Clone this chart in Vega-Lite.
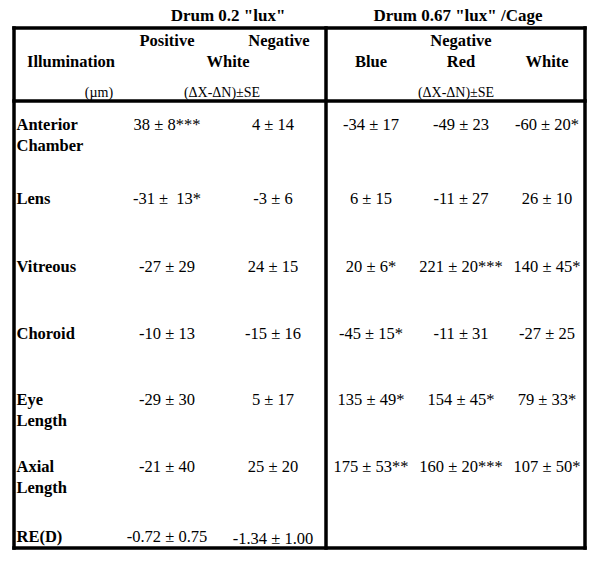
{
  "$schema": "https://vega.github.io/schema/vega-lite/v6.json",
  "width": 600,
  "height": 563,
  "autosize": {"type": "fit", "contains": "padding"},
  "padding": 0,
  "background": "white",
  "config": {"view": {"stroke": null}},
  "datasets": {
    "titles": [
      {"text": "Drum 0.2 \"lux\"", "col": 6, "row": 0},
      {"text": "Drum 0.67 \"lux\" /Cage", "col": 12, "row": 0}
    ],
    "headers": [
      {"text": "Positive", "col": 4, "row": 2},
      {"text": "Negative", "col": 8, "row": 2},
      {"text": "Illumination", "col": 2, "row": 3},
      {"text": "White", "col": 6, "row": 3},
      {"text": "Negative", "col": 13, "row": 2},
      {"text": "Blue", "col": 10, "row": 3},
      {"text": "Red", "col": 13, "row": 3},
      {"text": "White", "col": 14, "row": 3}
    ],
    "units": [
      {"text": "(µm)", "col": 3, "row": 4, "kind": "bold"},
      {"text": "(ΔX-ΔN)±SE", "col": 5, "row": 4, "kind": "plain"},
      {"text": "(ΔX-ΔN)±SE", "col": 11, "row": 4, "kind": "plain"}
    ],
    "labels": [
      {"text": "Anterior\nChamber", "row": 6},
      {"text": "Lens", "row": 7},
      {"text": "Vitreous", "row": 8},
      {"text": "Choroid", "row": 9},
      {"text": "Eye\nLength", "row": 10},
      {"text": "Axial\nLength", "row": 11},
      {"text": "RE(D)", "row": 12}
    ],
    "cells": [
      {"text": "38 ± 8***", "col": 4, "row": 6},
      {"text": "4 ± 14", "col": 7, "row": 6},
      {"text": "-34 ± 17", "col": 10, "row": 6},
      {"text": "-49 ± 23", "col": 13, "row": 6},
      {"text": "-60 ± 20*", "col": 14, "row": 6},
      {"text": "-31 ±\u00a0 13*", "col": 4, "row": 7},
      {"text": "-3 ± 6", "col": 7, "row": 7},
      {"text": "6 ± 15", "col": 10, "row": 7},
      {"text": "-11 ± 27", "col": 13, "row": 7},
      {"text": "26 ± 10", "col": 14, "row": 7},
      {"text": "-27 ± 29", "col": 4, "row": 8},
      {"text": "24 ± 15", "col": 7, "row": 8},
      {"text": "20 ± 6*", "col": 10, "row": 8},
      {"text": "221 ± 20***", "col": 13, "row": 8},
      {"text": "140 ± 45*", "col": 14, "row": 8},
      {"text": "-10 ± 13", "col": 4, "row": 9},
      {"text": "-15 ± 16", "col": 7, "row": 9},
      {"text": "-45 ± 15*", "col": 10, "row": 9},
      {"text": "-11 ± 31", "col": 13, "row": 9},
      {"text": "-27 ± 25", "col": 14, "row": 9},
      {"text": "-29 ± 30", "col": 4, "row": 10},
      {"text": "5 ± 17", "col": 7, "row": 10},
      {"text": "135 ± 49*", "col": 10, "row": 10},
      {"text": "154 ± 45*", "col": 13, "row": 10},
      {"text": "79 ± 33*", "col": 14, "row": 10},
      {"text": "-21 ± 40", "col": 4, "row": 11},
      {"text": "25 ± 20", "col": 7, "row": 11},
      {"text": "175 ± 53**", "col": 10, "row": 11},
      {"text": "160 ± 20***", "col": 13, "row": 11},
      {"text": "107 ± 50*", "col": 14, "row": 11},
      {"text": "-0.72 ± 0.75", "col": 4, "row": 12},
      {"text": "-1.34 ± 1.00", "col": 7, "row": 13}
    ],
    "lines": [
      {"c1": 0, "c2": 15, "r1": 1, "r2": 1},
      {"c1": 0, "c2": 15, "r1": 5, "r2": 5},
      {"c1": 0, "c2": 15, "r1": 14, "r2": 14},
      {"c1": 0, "c2": 0, "r1": 1, "r2": 14},
      {"c1": 9, "c2": 9, "r1": 1, "r2": 14},
      {"c1": 15, "c2": 15, "r1": 1, "r2": 14}
    ]
  },
  "layer": [
    {
      "data": {"name": "lines"},
      "mark": {"type": "rule", "color": "black", "strokeWidth": 3.5, "strokeCap": "square"},
      "encoding": {
        "x": {"field": "c1", "type": "quantitative", "axis": null,
              "scale": {"domain": [0,1,2,3,4,5,6,7,8,9,10,11,12,13,14,15], "range": [14,16.5,71,99,167,222,228,273,279,326,371,456,458,461,547,585], "nice": false, "zero": false}},
        "x2": {"field": "c2"},
        "y": {"field": "r1", "type": "quantitative", "axis": null,
              "scale": {"domain": [0,1,2,3,4,5,6,7,8,9,10,11,12,13,14], "range": [21,28,46,67,97,101,130,204,272,339,405,472,542,544,548], "nice": false, "zero": false}},
        "y2": {"field": "r2"}
      }
    },
    {
      "data": {"name": "titles"},
      "mark": {"type": "text", "font": "Liberation Serif", "fontWeight": "bold", "fontSize": 17, "align": "center", "baseline": "alphabetic", "color": "black"},
      "encoding": {
        "x": {"field": "col", "type": "quantitative"},
        "y": {"field": "row", "type": "quantitative"},
        "text": {"field": "text"}
      }
    },
    {
      "data": {"name": "headers"},
      "mark": {"type": "text", "font": "Liberation Serif", "fontWeight": "bold", "fontSize": 16.5, "align": "center", "baseline": "alphabetic", "color": "black"},
      "encoding": {
        "x": {"field": "col", "type": "quantitative"},
        "y": {"field": "row", "type": "quantitative"},
        "text": {"field": "text"}
      }
    },
    {
      "data": {"name": "units"},
      "mark": {"type": "text", "font": "Liberation Serif", "fontSize": 14, "align": "center", "baseline": "alphabetic", "color": "black"},
      "encoding": {
        "x": {"field": "col", "type": "quantitative"},
        "y": {"field": "row", "type": "quantitative"},
        "text": {"field": "text"},
        "fontWeight": {"field": "kind", "type": "nominal", "scale": {"domain": ["bold", "plain"], "range": ["bold", "normal"]}, "legend": null}
      }
    },
    {
      "data": {"name": "labels"},
      "mark": {"type": "text", "font": "Liberation Serif", "fontWeight": "bold", "fontSize": 16.5, "align": "left", "baseline": "alphabetic", "lineBreak": "\n", "lineHeight": 21, "color": "black"},
      "encoding": {
        "x": {"datum": 1, "type": "quantitative"},
        "y": {"field": "row", "type": "quantitative"},
        "text": {"field": "text"}
      }
    },
    {
      "data": {"name": "cells"},
      "mark": {"type": "text", "font": "Liberation Serif", "fontSize": 16.5, "align": "center", "baseline": "alphabetic", "color": "black"},
      "encoding": {
        "x": {"field": "col", "type": "quantitative"},
        "y": {"field": "row", "type": "quantitative"},
        "text": {"field": "text"}
      }
    }
  ]
}
